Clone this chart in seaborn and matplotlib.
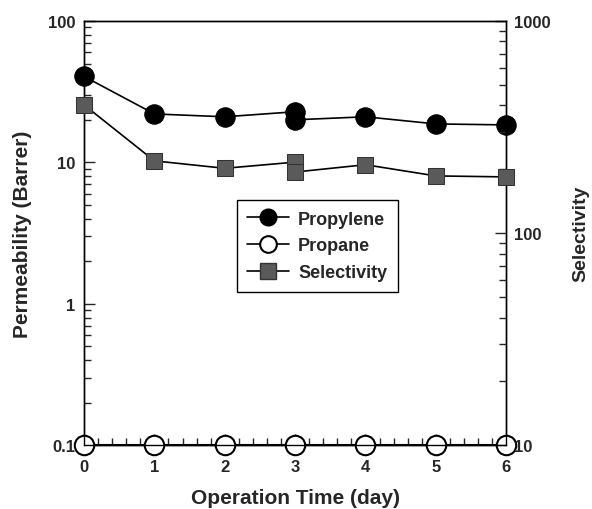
import numpy as np
import pandas as pd
import matplotlib
matplotlib.use("Agg")
import matplotlib.pyplot as plt
import seaborn as sns
from matplotlib.ticker import LogLocator, NullFormatter, FixedLocator, MultipleLocator, FixedFormatter
from matplotlib.lines import Line2D

# data
days = [0, 1, 2, 3, 3, 4, 5, 6]
propylene = [40.5, 22.0, 21.0, 22.8, 20.0, 21.0, 18.7, 18.4]
propane_days = [0, 1, 2, 3, 4, 5, 6]
propane = [0.1, 0.1, 0.1, 0.1, 0.1, 0.1, 0.1]
selectivity = [402, 219, 202, 216, 194, 210, 186, 184]

df_perm = pd.DataFrame({'day': days, 'propylene': propylene, 'selectivity': selectivity})
df_pane = pd.DataFrame({'day': propane_days, 'propane': propane})

sns.set_style("ticks")
plt.rcParams['font.family'] = ['Liberation Sans', 'DejaVu Sans']
plt.rcParams['font.weight'] = 'bold'
plt.rcParams['axes.labelweight'] = 'bold'

fig = plt.figure(figsize=(5.92, 5.10), dpi=100)
ax = fig.add_axes([0.142, 0.125, 0.713, 0.832])
ax2 = ax.twinx()

sq_col = '#5a5a5a'

sns.lineplot(x='day', y='propylene', data=df_perm, ax=ax, estimator=None, sort=False,
             color='black', lw=1.2, marker='o', markersize=14, markerfacecolor='black',
             markeredgecolor='black', clip_on=False, zorder=5)
sns.lineplot(x='day', y='propane', data=df_pane, ax=ax, estimator=None, sort=False,
             color='black', lw=1.5, marker='o', markersize=14, markerfacecolor='white',
             markeredgecolor='black', markeredgewidth=1.5, clip_on=False, zorder=6)
sns.lineplot(x='day', y='selectivity', data=df_perm, ax=ax2, estimator=None, sort=False,
             color='black', lw=1.2, marker='s', markersize=11.5, markerfacecolor=sq_col,
             markeredgecolor='#333333', clip_on=False, zorder=5)

ax.set_yscale('log')
ax2.set_yscale('log')
ax.set_ylim(0.1, 100)
ax2.set_ylim(10, 1000)
ax.set_xlim(0, 6)

ax.xaxis.set_major_locator(MultipleLocator(1))
ax.xaxis.set_minor_locator(MultipleLocator(0.2))
ax.yaxis.set_major_locator(FixedLocator([0.1, 1, 10, 100]))
ax.yaxis.set_major_formatter(FixedFormatter(['0.1', '1', '10', '100']))
ax.yaxis.set_minor_locator(LogLocator(base=10, subs=np.arange(2, 10)))
ax.yaxis.set_minor_formatter(NullFormatter())
ax2.yaxis.set_major_locator(FixedLocator([10, 100, 1000]))
ax2.yaxis.set_major_formatter(FixedFormatter(['10', '100', '1000']))
ax2.yaxis.set_minor_locator(LogLocator(base=10, subs=np.arange(2, 10)))
ax2.yaxis.set_minor_formatter(NullFormatter())

for a in (ax, ax2):
    a.tick_params(which='major', direction='in', length=8, width=1, labelsize=12)
    a.tick_params(which='minor', direction='in', length=5, width=1)
    for s in a.spines.values():
        s.set_linewidth(1)
        s.set_color('black')
ax.tick_params(axis='y', which='both', right=False, pad=6)
ax.tick_params(axis='x', which='both', top=False, pad=10)
ax2.tick_params(axis='y', which='both', left=False, pad=6)

ax.set_xlabel('Operation Time (day)', fontsize=15, labelpad=10)
ax.set_ylabel('Permeability (Barrer)', fontsize=15, labelpad=12)
ax2.set_ylabel('Selectivity', fontsize=14, labelpad=15)

handles = [
    Line2D([], [], color='black', lw=1.2, marker='o', markersize=12, markerfacecolor='black'),
    Line2D([], [], color='black', lw=1.2, marker='o', markersize=12, markerfacecolor='white', markeredgewidth=1.5),
    Line2D([], [], color='black', lw=1.2, marker='s', markersize=11, markerfacecolor=sq_col, markeredgecolor='#333333'),
]
leg = ax2.legend(handles, ['Propylene', 'Propane', 'Selectivity'], loc='upper left',
                 bbox_to_anchor=(0.34, 0.60), frameon=True, fancybox=False, fontsize=13,
                 handlelength=2.3, handletextpad=0.5, borderpad=0.6, labelspacing=0.55)
leg.get_frame().set_edgecolor('black')
leg.get_frame().set_linewidth(1)
leg.get_frame().set_alpha(1)

plt.savefig('out.png', dpi=100)
